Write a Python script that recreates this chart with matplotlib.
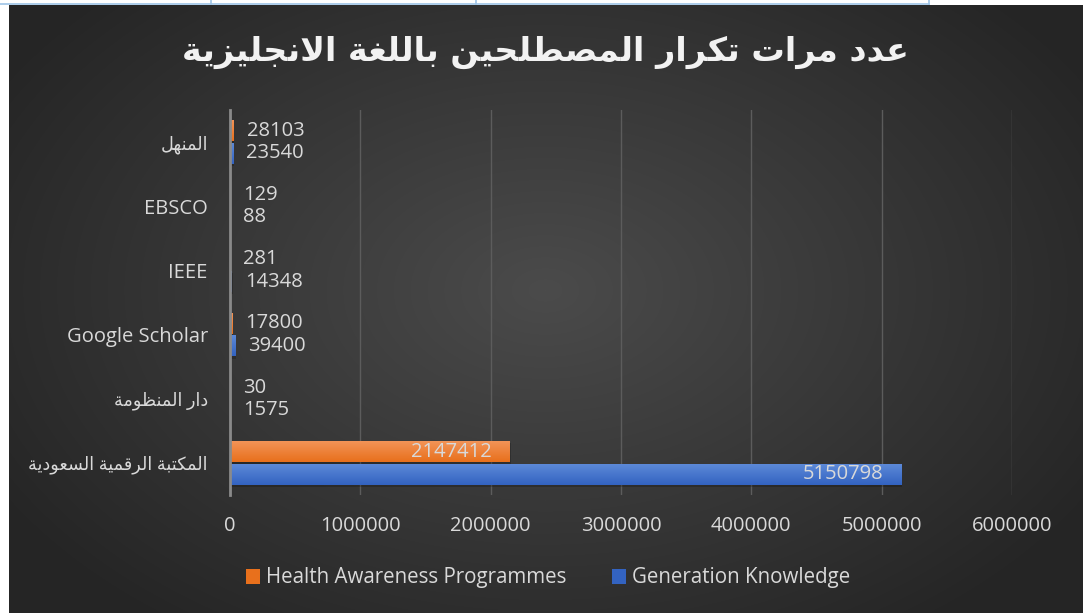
import numpy as np
import matplotlib
matplotlib.use("Agg")
import matplotlib.pyplot as plt
from matplotlib.patches import Rectangle, Patch

plt.rcParams['font.family'] = ['Open Sans', 'DejaVu Sans']

# data (bottom to top, as drawn)
categories = ['المكتبة الرقمية السعودية', 'دار المنظومة', 'Google Scholar', 'IEEE', 'EBSCO', 'المنهل']
health = [2147412, 30, 17800, 281, 129, 28103]
generation = [5150798, 1575, 39400, 14348, 88, 23540]
series_names = ['Health Awareness Programmes', 'Generation Knowledge']
title = 'عدد مرات تكرار المصطلحين باللغة الانجليزية'
xticks = [0, 1000000, 2000000, 3000000, 4000000, 5000000, 6000000]

# matplotlib does no arabic shaping, so pick presentation forms by hand
DUAL = {'ب': 0xFE8F, 'ت': 0xFE95, 'ج': 0xFE9D, 'ح': 0xFEA1, 'س': 0xFEB1, 'ص': 0xFEB9,
        'ط': 0xFEC1, 'ظ': 0xFEC5, 'ع': 0xFEC9, 'غ': 0xFECD, 'ق': 0xFED5, 'ك': 0xFED9,
        'ل': 0xFEDD, 'م': 0xFEE1, 'ن': 0xFEE5, 'ه': 0xFEE9, 'ي': 0xFEF1}
RIGHT = {'ا': 0xFE8D, 'ة': 0xFE93, 'د': 0xFEA9, 'ر': 0xFEAD, 'ز': 0xFEAF, 'و': 0xFEED}


def is_ar(s):
    return any(ch in DUAL or ch in RIGHT for ch in s)


def ar(s):
    if not is_ar(s):
        return s
    tokens = []
    i = 0
    while i < len(s):
        if s[i] == 'ل' and i + 1 < len(s) and s[i + 1] == 'ا':
            tokens.append('LA')
            i += 2
        else:
            tokens.append(s[i])
            i += 1
    out = []
    for k, t in enumerate(tokens):
        prev = tokens[k - 1] if k > 0 else None
        nxt = tokens[k + 1] if k + 1 < len(tokens) else None
        jp = prev in DUAL
        if t == 'LA':
            out.append(chr(0xFEFC if jp else 0xFEFB))
        elif t in DUAL:
            jn = nxt is not None and (nxt in DUAL or nxt in RIGHT or nxt == 'LA')
            b = DUAL[t]
            if jp and jn:
                out.append(chr(b + 3))
            elif jp:
                out.append(chr(b + 1))
            elif jn:
                out.append(chr(b + 2))
            else:
                out.append(chr(b))
        elif t in RIGHT:
            out.append(chr(RIGHT[t] + 1 if jp else RIGHT[t]))
        else:
            out.append(t)
    return ''.join(out)[::-1]


W, H = 1083, 613
fig = plt.figure(figsize=(W / 100, H / 100), dpi=100)
fig.patch.set_facecolor('white')

# background with radial gradient + the bit of page border above it
bg = fig.add_axes([0, 0, 1, 1], zorder=0)
bg.set_xlim(0, W)
bg.set_ylim(H, 0)
bg.axis('off')
yy, xx = np.mgrid[5:H:1, 9:W:1]
r = np.sqrt(((xx - 545) / 640.0) ** 2 + ((yy - 290) / 420.0) ** 2)
r = np.clip(r, 0, 1)
c0, c1 = 0x4b / 255, 0x25 / 255
g = c0 + (c1 - c0) * r
bg.imshow(np.dstack([g, g, g]), extent=(9, W, H, 5), aspect='auto', interpolation='bilinear')
bg.plot([0, 929], [4, 4], color='#9dc3e6', lw=1.2)
for xv in [211, 476, 929]:
    bg.plot([xv, xv], [0, 4], color='#9dc3e6', lw=1.2)

ax = fig.add_axes([230 / W, (H - 495) / H, 782 / W, 385 / H], zorder=2)
ax.set_facecolor('none')

y = np.arange(len(categories))
bh = 0.33
off = 0.175
orange_cols = ('#f3955a', '#e8701c')
blue_cols = ('#5e8bd9', '#3363c1')


def grad_bars(bars, cols):
    top = np.array(matplotlib.colors.to_rgb(cols[0]))
    bot = np.array(matplotlib.colors.to_rgb(cols[1]))
    t = np.linspace(0, 1, 32)[:, None]
    img = (top + (bot - top) * t)[:, None, :]
    for b in bars:
        x0, y0, w, h = b.get_x(), b.get_y(), b.get_width(), b.get_height()
        # soft shadow
        ax.add_patch(Rectangle((x0, y0 - 0.035), w + 6000, h, color='black', alpha=0.2, lw=0, zorder=2))
        im = ax.imshow(img, extent=(x0, x0 + w, y0, y0 + h), aspect='auto', zorder=3, origin='upper')
        im.set_clip_path(b)


hb = ax.barh(y + off, health, height=bh, color=orange_cols[1], zorder=3, lw=0)
gb = ax.barh(y - off, generation, height=bh, color=blue_cols[1], zorder=3, lw=0)
grad_bars(hb, orange_cols)
grad_bars(gb, blue_cols)

lab_col = '#d9d9d9'
for vals, dy in [(health, off), (generation, -off)]:
    for yi, v in zip(y, vals):
        if v > 1000000:
            ax.annotate(str(v), (v, yi + dy), xytext=(-13, 0), textcoords='offset points',
                        ha='right', va='center', color=lab_col, fontsize=14.5, zorder=5)
        else:
            ax.annotate(str(v), (v, yi + dy), xytext=(9.5, 0), textcoords='offset points',
                        ha='left', va='center', color=lab_col, fontsize=14.5, zorder=5)

ax.set_xlim(0, 6000000)
ax.set_ylim(-0.5, len(categories) - 0.5)
ax.set_xticks(xticks)
ax.set_xticklabels([str(v) for v in xticks])
ax.set_yticks(y)
ax.set_yticklabels([ar(c) for c in categories])
for lbl, c in zip(ax.get_yticklabels(), categories):
    lbl.set_fontsize(12.7 if is_ar(c) else 14.5)
ax.tick_params(axis='x', length=0, pad=15, labelsize=14.5, labelcolor=lab_col)
ax.tick_params(axis='y', length=0, pad=16, labelcolor=lab_col)
ax.grid(axis='x', color='#5c5c5c', lw=1, zorder=1)
ax.set_axisbelow(True)
for s in ['top', 'right', 'bottom']:
    ax.spines[s].set_visible(False)
ax.spines['left'].set_color('#8a8a8a')
ax.spines['left'].set_linewidth(2)
ax.spines['left'].set_zorder(4)

fig.text(545 / W, 1 - 52 / H, ar(title), ha='center', va='center', color='#f2f2f2',
         fontsize=24, fontweight='bold', family='DejaVu Sans', zorder=5)

handles = [Patch(facecolor=orange_cols[1]), Patch(facecolor=blue_cols[1])]
fig.legend(handles, series_names, loc='center', bbox_to_anchor=(548 / W, 1 - 578 / H), ncol=2,
           frameon=False, fontsize=14.8, labelcolor=lab_col, handlelength=0.7, handleheight=0.7,
           handletextpad=0.3, columnspacing=2.2)

fig.savefig('out.png', dpi=100, facecolor=fig.get_facecolor())
